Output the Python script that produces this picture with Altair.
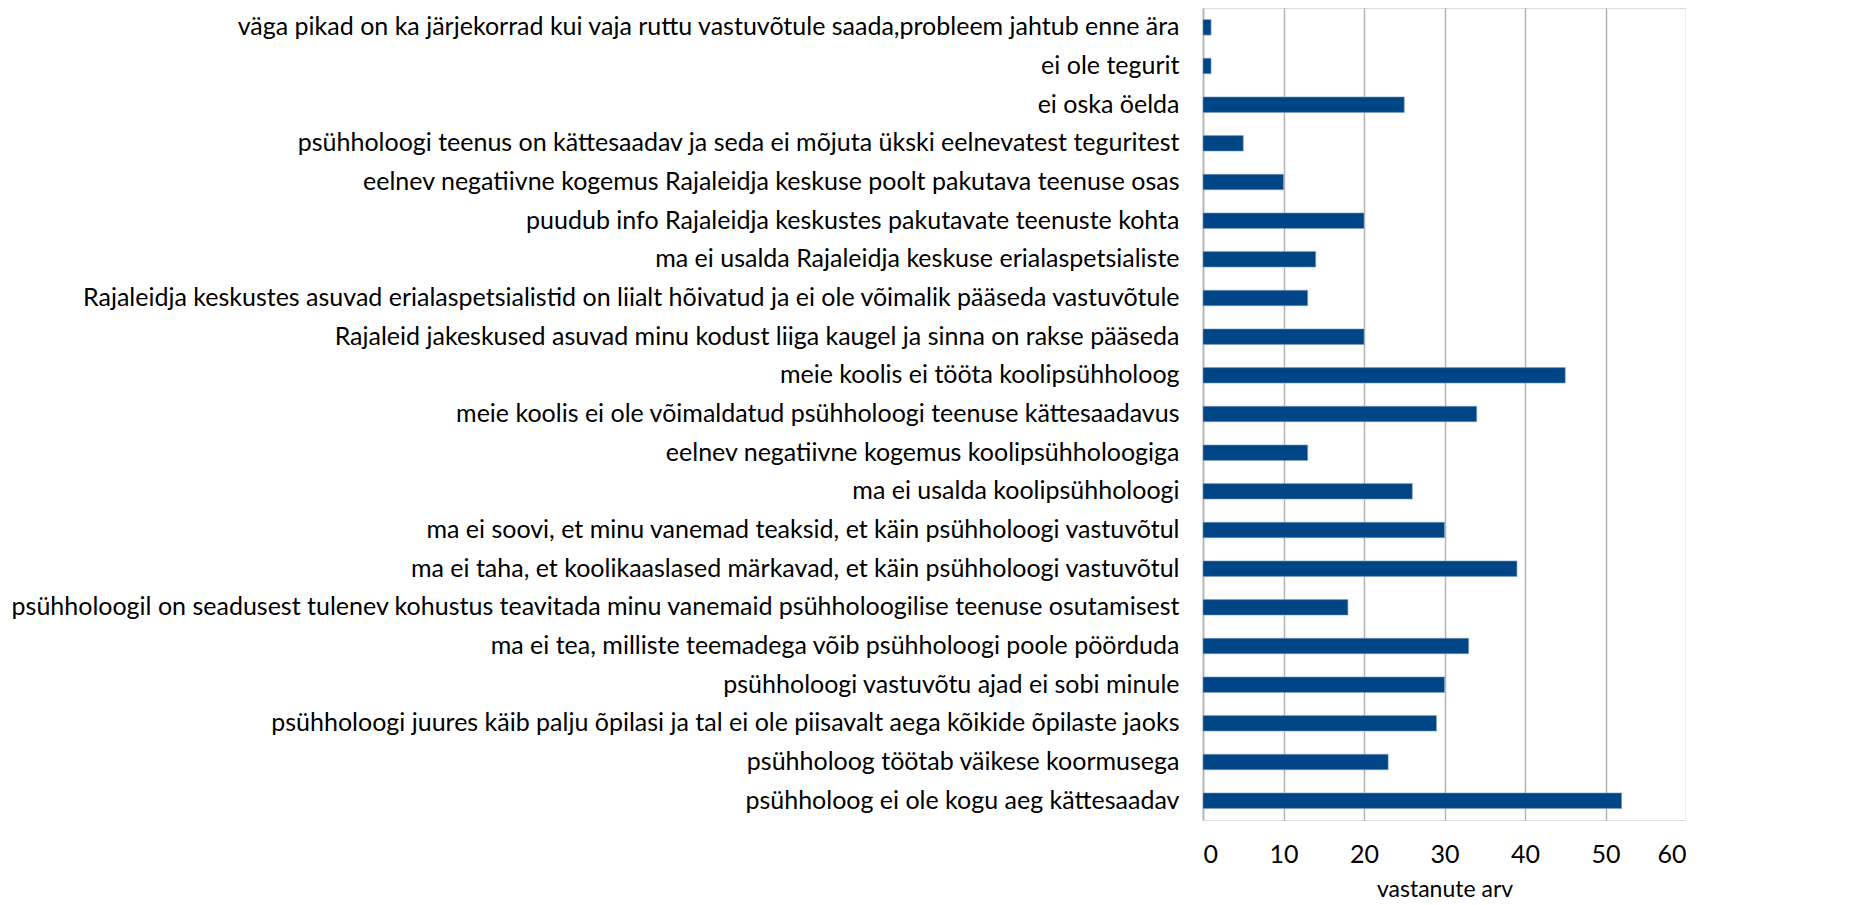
import altair as alt
import pandas as pd

categories = [
    "väga pikad on ka järjekorrad kui vaja ruttu vastuvõtule saada,probleem jahtub enne ära",
    "ei ole tegurit",
    "ei oska öelda",
    "psühholoogi teenus on kättesaadav ja seda ei mõjuta ükski eelnevatest teguritest",
    "eelnev negatiivne kogemus Rajaleidja keskuse poolt pakutava teenuse osas",
    "puudub info Rajaleidja keskustes pakutavate teenuste kohta",
    "ma ei usalda Rajaleidja keskuse erialaspetsialiste",
    "Rajaleidja keskustes asuvad erialaspetsialistid on liialt hõivatud ja ei ole võimalik pääseda vastuvõtule",
    "Rajaleid jakeskused asuvad minu kodust liiga kaugel ja sinna on rakse pääseda",
    "meie koolis ei tööta koolipsühholoog",
    "meie koolis ei ole võimaldatud psühholoogi teenuse kättesaadavus",
    "eelnev negatiivne kogemus koolipsühholoogiga",
    "ma ei usalda koolipsühholoogi",
    "ma ei soovi, et minu vanemad teaksid, et käin psühholoogi vastuvõtul",
    "ma ei taha, et koolikaaslased märkavad, et käin psühholoogi vastuvõtul",
    "psühholoogil on seadusest tulenev kohustus teavitada minu vanemaid psühholoogilise teenuse osutamisest",
    "ma ei tea, milliste teemadega võib psühholoogi poole pöörduda",
    "psühholoogi vastuvõtu ajad ei sobi minule",
    "psühholoogi juures käib palju õpilasi ja tal ei ole piisavalt aega kõikide õpilaste jaoks",
    "psühholoog töötab väikese koormusega",
    "psühholoog ei ole kogu aeg kättesaadav",
]
values = [1, 1, 25, 5, 10, 20, 14, 13, 20, 45, 34, 13, 26, 30, 39, 18, 33, 30, 29, 23, 52]
x_ticks = [0, 10, 20, 30, 40, 50, 60]

df = pd.DataFrame({"category": categories, "value": values})

FONT = "Lato"

chart = (
    alt.Chart(df)
    .mark_bar(color="#004586", stroke="#7f9fc2", strokeWidth=0.6)
    .encode(
        x=alt.X(
            "value:Q",
            scale=alt.Scale(domain=[0, 60], nice=False),
            axis=alt.Axis(
                values=x_ticks,
                title="vastanute arv",
                titleFont=FONT,
                titleFontSize=23,
                titleFontWeight="normal",
                titleColor="black",
                titlePadding=11,
                labelFont=FONT,
                labelFontSize=25,
                labelColor="black",
                labelPadding=22,
                ticks=False,
                domain=False,
                grid=True,
                gridColor="#b3b3b3",
                gridWidth=1.5,
            ),
        ),
        y=alt.Y(
            "category:N",
            sort=categories,
            scale=alt.Scale(paddingInner=0.6, paddingOuter=0.3),
            axis=alt.Axis(
                title=None,
                labelFont=FONT,
                labelFontSize=25,
                labelColor="black",
                labelPadding=24,
                labelLimit=1300,
                ticks=False,
                domain=True,
                domainColor="#b3b3b3",
                domainWidth=1.5,
            ),
        ),
    )
    .properties(
        width=483,
        height=812,
        autosize=alt.AutoSizeParams(type="none"),
        padding={"left": 1195, "top": 0, "right": 0, "bottom": 85},
    )
    .configure_view(stroke="#b3b3b3", strokeWidth=1.5)
    .configure(background="white")
)

chart.save("out.html", embed_options={"renderer": "svg", "actions": False})
